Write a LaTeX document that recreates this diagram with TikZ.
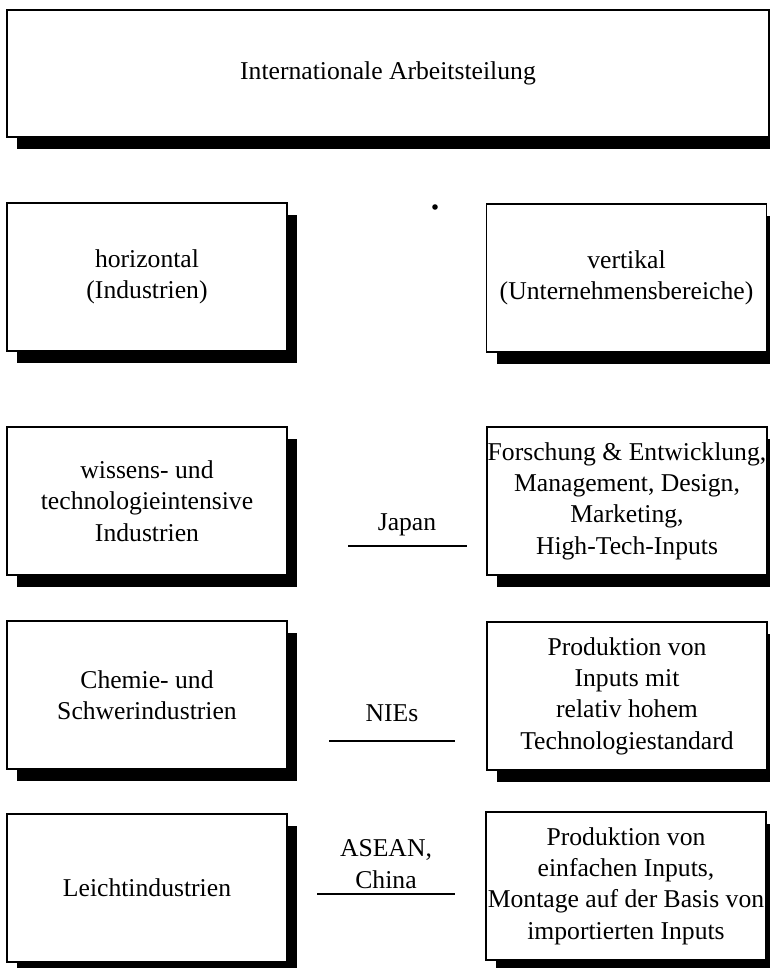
\documentclass[tikz,border=0pt]{standalone}
\usepackage{fontspec}
\setmainfont{Liberation Serif}
\usetikzlibrary{shadows}

\begin{document}
\begin{tikzpicture}[x=0.02cm,y=-0.02cm,
  box/.style={draw,fill=white,line width=0.8pt,minimum width=5.6cm,minimum height=2.96cm,
    inner xsep=0.5pt,align=center,font=\fontsize{14.6}{17.8}\selectfont,
    drop shadow={shadow xshift=0.2cm,shadow yshift=-0.24cm,fill=black,opacity=1}},
  region/.style={align=center,font=\fontsize{14.6}{17.8}\selectfont}]
  \useasboundingbox (0,0) rectangle (770,968);
  \node[box,minimum width=15.24cm,minimum height=2.54cm] (ial) at (388,73.5) {Internationale Arbeitsteilung};
  \node[box] (hor) at (147,277) {horizontal\\(Industrien)};
  \node[box] (ver) at (626.5,278) {vertikal\\(Unternehmensbereiche)};
  \fill (435,207) circle (2.8);
  \node[box] (wiss) at (147,501) {wissens- und\\technologieintensive\\Industrien};
  \node[box] (fue) at (627,501) {Forschung \& Entwicklung,\\Management, Design,\\Marketing,\\High-Tech-Inputs};
  \node[box] (chem) at (147,695) {Chemie- und\\Schwerindustrien};
  \node[box] (prod) at (627,696) {Produktion von\\Inputs mit\\relativ hohem\\Technologiestandard};
  \node[box] (leicht) at (147,888) {Leichtindustrien};
  \node[box] (mont) at (626,886) {Produktion von\\einfachen Inputs,\\Montage auf der Basis von\\importierten Inputs};
    \node[region] (japan) at (407,525) {Japan};
    \node[region] (nies) at (392,713) {NIEs};
    \node[region] (asean) at (386,864) {ASEAN,\\China};
    \coordinate (j1) at (348,546);
    \coordinate (j2) at (467,546);
    \coordinate (n1) at (329,741);
    \coordinate (n2) at (455,741);
    \coordinate (a1) at (317,894);
    \coordinate (a2) at (455,894);
    \draw[line width=0.8pt] (j1) -- (j2);
    \draw[line width=0.8pt] (n1) -- (n2);
    \draw[line width=0.8pt] (a1) -- (a2);
\end{tikzpicture}
\end{document}
